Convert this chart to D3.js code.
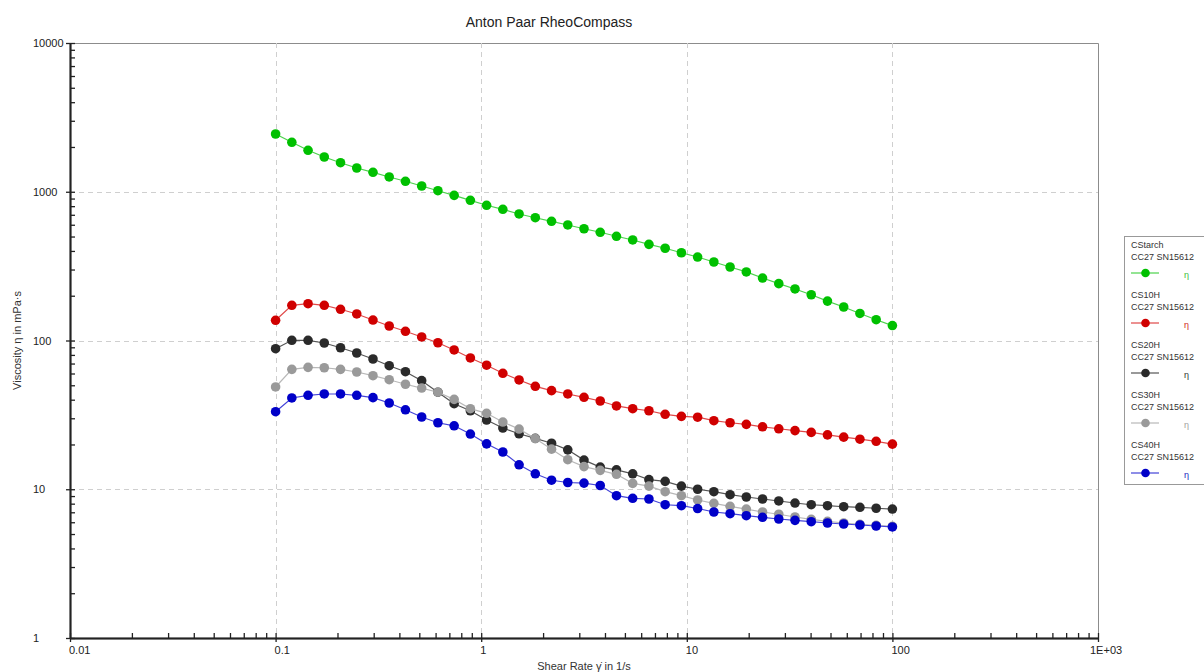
<!DOCTYPE html>
<html>
<head>
<meta charset="utf-8">
<script src="https://cdn.jsdelivr.net/npm/d3@7"></script>
<style>
  html, body { margin: 0; padding: 0; background: #fff; }
  svg { display: block; font-family: "Liberation Sans", Arial, sans-serif; }
</style>
</head>
<body>
<svg id="chart" width="1204" height="672"></svg>
<script>
// Shear rate points (1/s), logarithmic ramp 0.1 .. 100
const shearRate = [0.1, 0.11995, 0.14383, 0.17248, 0.20691, 0.24814, 0.29761, 0.35694, 0.4281,
  0.51343, 0.6158, 0.73856, 0.88579, 1.0624, 1.2743, 1.5284, 1.833, 2.1986, 2.6367, 3.1623,
  3.7927, 4.5489, 5.4556, 6.5432, 7.8476, 9.4121, 11.288, 13.539, 16.238, 19.475, 23.357,
  28.013, 33.598, 40.296, 48.329, 57.964, 69.519, 83.378, 100];

// Viscosity (mPa·s) per sample
const etaCStarch = [2445, 2150, 1900, 1712, 1568, 1444, 1351, 1257, 1176, 1093, 1016, 946, 876,
  811, 762, 709, 669, 633, 598, 564, 534, 502, 474, 443, 417, 389, 364, 337, 312, 289, 263,
  241, 222, 203, 184, 168, 152, 138, 126];
const etaCS10H = [136.7, 172.5, 176.8, 172.5, 162.1, 150.8, 137.3, 125.2, 115.3, 105.6, 96.6,
  86.4, 76.3, 68.2, 60.2, 54.3, 49.2, 46.0, 43.7, 41.5, 39.2, 36.3, 34.8, 33.7, 31.9, 30.9,
  30.5, 28.9, 28.0, 27.3, 26.3, 25.5, 24.8, 24.1, 23.2, 22.4, 21.7, 21.0, 20.1];
const etaCS20H = [88.1, 100.3, 100.3, 96.2, 89.4, 82.4, 75.1, 67.7, 61.7, 53.7, 44.9, 37.6,
  33.7, 29.2, 25.8, 23.6, 22.0, 20.4, 18.4, 15.7, 14.1, 13.5, 12.7, 11.6, 11.3, 10.5, 10.0,
  9.63, 9.19, 8.87, 8.60, 8.34, 8.08, 7.87, 7.75, 7.63, 7.56, 7.45, 7.36];
const etaCS30H = [48.7, 64.0, 66.0, 65.6, 64.0, 61.4, 58.0, 54.5, 50.8, 47.9, 44.9, 40.2, 34.8,
  32.4, 28.3, 25.4, 21.9, 18.6, 15.8, 14.2, 13.4, 12.6, 10.96, 10.5, 9.63, 9.05, 8.47, 8.04,
  7.68, 7.36, 7.03, 6.79, 6.51, 6.28, 6.09, 5.93, 5.81, 5.72, 5.63];
const etaCS40H = [33.2, 41.1, 42.8, 43.7, 43.7, 42.8, 41.3, 38.0, 34.2, 30.6, 28.0, 26.7, 23.5,
  20.2, 17.8, 14.6, 12.7, 11.5, 11.1, 11.0, 10.6, 9.05, 8.69, 8.60, 7.87, 7.75, 7.42, 7.03,
  6.85, 6.64, 6.48, 6.31, 6.18, 6.05, 5.93, 5.84, 5.75, 5.66, 5.58];

const seriesNames = ["CStarch", "CS10H", "CS20H", "CS30H", "CS40H"];
const seriesValues = [etaCStarch, etaCS10H, etaCS20H, etaCS30H, etaCS40H];
const seriesColors = ["#00c000", "#d00000", "#2a2a2a", "#9a9a9a", "#0000c8"];
const lineColors = ["#4cd24c", "#e04848", "#555555", "#b8b8b8", "#4444d8"];
const etaColors = ["#40c040", "#d02020", "#303030", "#a0a0a0", "#2020c0"];
const measuringSystem = "CC27 SN15612";

const xTickValues = [0.01, 0.1, 1, 10, 100, 1000];
const xTickLabels = ["0.01", "0.1", "1", "10", "100", "1E+03"];
const yTickValues = [1, 10, 100, 1000, 10000];
const yTickLabels = ["1", "10", "100", "1000", "10000"];

const svg = d3.select("#chart");
const plotL = 70, plotR = 1098, plotT = 43, plotB = 638;

const x = d3.scaleLog().domain([0.01, 1000]).range([plotL, plotR]);
const y = d3.scaleLog().domain([1, 10000]).range([plotB, plotT]);

// minor tick positions (2..9 of every decade)
const minorX = [], minorY = [];
for (let e = -2; e < 3; e++) for (let m = 2; m <= 9; m++) minorX.push(m * Math.pow(10, e));
for (let e = 0; e < 4; e++) for (let m = 2; m <= 9; m++) minorY.push(m * Math.pow(10, e));

// frame (top and right)
svg.append("path")
  .attr("d", `M${plotL},${plotT + 0.5}H${plotR + 0.5}V${plotB}`)
  .attr("fill", "none").attr("stroke", "#8c8c8c").attr("stroke-width", 1);

// dashed decade grid
const grid = svg.append("g").attr("stroke", "#cfcfcf").attr("stroke-dasharray", "5,4").attr("stroke-width", 1);
grid.selectAll("line.gx").data(xTickValues.slice(1, -1)).join("line")
  .attr("x1", d => Math.round(x(d)) + 0.5).attr("x2", d => Math.round(x(d)) + 0.5)
  .attr("y1", plotT).attr("y2", plotB);
grid.selectAll("line.gy").data(yTickValues.slice(1, -1)).join("line")
  .attr("y1", d => Math.round(y(d)) + 0.5).attr("y2", d => Math.round(y(d)) + 0.5)
  .attr("x1", plotL).attr("x2", plotR);

// axes
function styleAxis(g, w) {
  g.select(".domain").attr("stroke", "#222").attr("stroke-width", w);
  g.selectAll(".tick line").attr("stroke", "#222").attr("stroke-width", 1.3);
  g.selectAll(".tick text").remove();
}
svg.append("g").attr("transform", `translate(0,${plotB})`)
  .call(d3.axisTop(x).tickValues(minorX).tickSizeInner(5).tickSizeOuter(0).tickFormat(""))
  .call(g => styleAxis(g, 1.5));
svg.append("g").attr("transform", `translate(0,${plotB})`)
  .call(d3.axisBottom(x).tickValues(xTickValues).tickSizeInner(4).tickSizeOuter(0).tickFormat(""))
  .call(g => styleAxis(g, 1.5));
svg.append("g").attr("transform", `translate(0,${plotB})`)
  .call(d3.axisTop(x).tickValues(xTickValues).tickSizeInner(5).tickSizeOuter(0).tickFormat(""))
  .call(g => styleAxis(g, 1.5));
svg.append("g").attr("transform", `translate(${plotL},0)`)
  .call(d3.axisRight(y).tickValues(minorY).tickSizeInner(5).tickSizeOuter(0).tickFormat(""))
  .call(g => styleAxis(g, 1.5));
svg.append("g").attr("transform", `translate(${plotL},0)`)
  .call(d3.axisLeft(y).tickValues(yTickValues).tickSizeInner(4).tickSizeOuter(0).tickFormat(""))
  .call(g => styleAxis(g, 1.5));
svg.append("g").attr("transform", `translate(${plotL},0)`)
  .call(d3.axisRight(y).tickValues(yTickValues).tickSizeInner(5).tickSizeOuter(0).tickFormat(""))
  .call(g => styleAxis(g, 1.5));

// tick labels
svg.append("g").selectAll("text").data(yTickValues).join("text")
  .attr("x", 33).attr("y", d => y(d) + 4)
  .attr("font-size", 11).attr("fill", "#222")
  .text((d, i) => yTickLabels[i]);
svg.append("g").selectAll("text").data(xTickValues).join("text")
  .attr("x", (d, i) => x(d) - (i === xTickValues.length - 1 ? 8 : 1)).attr("y", 654)
  .attr("font-size", 11).attr("fill", "#222")
  .text((d, i) => xTickLabels[i]);

// titles
svg.append("text").attr("x", 549).attr("y", 27).attr("text-anchor", "middle")
  .attr("font-size", 14).attr("fill", "#222").text("Anton Paar RheoCompass");
svg.append("text").attr("x", (plotL + plotR) / 2).attr("y", 670).attr("text-anchor", "middle")
  .attr("font-size", 11).attr("fill", "#333").text("Shear Rate \u03B3\u0307 in 1/s");
svg.append("text").attr("transform", `translate(21,${(plotT + plotB) / 2}) rotate(-90)`)
  .attr("text-anchor", "middle").attr("font-size", 11).attr("fill", "#333")
  .text("Viscosity \u03B7 in mPa\u00B7s");

// series
const line = d3.line().x((d, i) => x(shearRate[i])).y(d => y(d));
seriesValues.forEach((vals, k) => {
  const g = svg.append("g");
  g.append("path").datum(vals).attr("d", line)
    .attr("fill", "none").attr("stroke", lineColors[k]).attr("stroke-width", 1.2);
  g.selectAll("circle").data(vals).join("circle")
    .attr("cx", (d, i) => x(shearRate[i])).attr("cy", d => y(d)).attr("r", 4.8)
    .attr("fill", seriesColors[k]);
});

// legend
const lg = svg.append("g");
lg.append("rect").attr("x", 1124.5).attr("y", 236.5).attr("width", 100).attr("height", 248)
  .attr("fill", "#fff").attr("stroke", "#999");
seriesNames.forEach((name, k) => {
  const oy = 245 + k * 50;
  lg.append("text").attr("x", 1131).attr("y", oy + 3).attr("font-size", 9).attr("fill", "#333").text(name);
  lg.append("text").attr("x", 1131).attr("y", oy + 15).attr("font-size", 9).attr("fill", "#333").text(measuringSystem);
  lg.append("line").attr("x1", 1131).attr("x2", 1159).attr("y1", oy + 28).attr("y2", oy + 28)
    .attr("stroke", lineColors[k]).attr("stroke-width", 1.2);
  lg.append("circle").attr("cx", 1145.5).attr("cy", oy + 28).attr("r", 4.3).attr("fill", seriesColors[k]);
  lg.append("text").attr("x", 1184).attr("y", oy + 33).attr("font-size", 9).attr("fill", etaColors[k]).text("\u03B7");
});
</script>
</body>
</html>
